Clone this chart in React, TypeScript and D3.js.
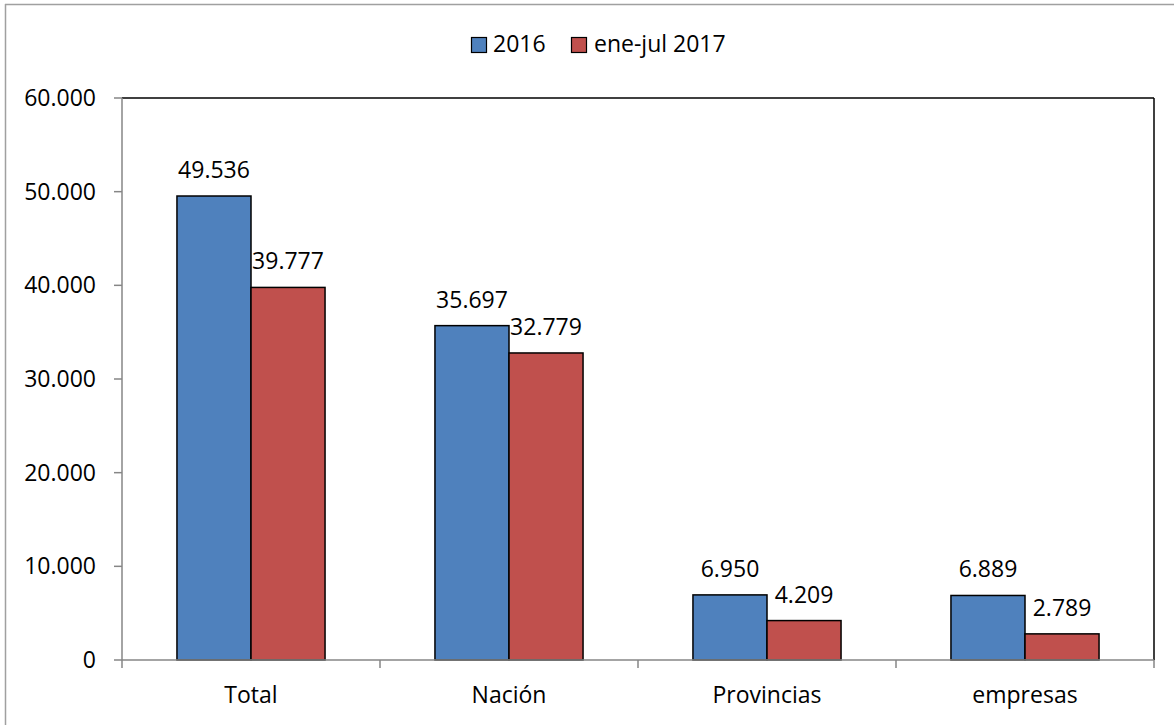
import React from "react";
import * as d3 from "d3";

const categories = ["Total", "Nación", "Provincias", "empresas"];
const series2016 = [49536, 35697, 6950, 6889];
const series2017 = [39777, 32779, 4209, 2789];
const seriesNames = ["2016", "ene-jul 2017"];
const seriesColors = ["#4F81BD", "#C0504D"];
const yTicks = [0, 10000, 20000, 30000, 40000, 50000, 60000];

const W = 1174;
const H = 725;
const left = 122;
const right = 1154;
const top = 98;
const bottom = 660;
const FONT = "'Open Sans', sans-serif";
const FS = 23;

const locale = d3.formatLocale({
  decimal: ",",
  thousands: ".",
  grouping: [3],
  currency: ["", ""],
});
const fmt = locale.format(",d");

export default function App() {
  const x = d3
    .scaleBand<string>()
    .domain(categories)
    .range([left, right])
    .paddingInner(0.426)
    .paddingOuter(0.213);
  const xs = d3
    .scaleBand<string>()
    .domain(seriesNames)
    .range([0, x.bandwidth()]);
  const y = d3.scaleLinear().domain([0, 60000]).range([bottom, top]);
  const step = (right - left) / categories.length;
  const allSeries = [series2016, series2017];

  return (
    <svg
      width={W}
      height={H}
      style={{ position: "absolute", left: 0, top: 0, background: "#fff" }}
      fontFamily={FONT}
    >
      <rect x={0} y={0} width={W} height={H} fill="#fff" />
      {/* outer frame */}
      <line x1={5} y1={4.5} x2={W} y2={4.5} stroke="#A0A0A0" strokeWidth={1.5} />
      <line x1={5.5} y1={4} x2={5.5} y2={H} stroke="#A0A0A0" strokeWidth={1.5} />

      {/* legend */}
      <g fontSize={FS} fill="#000">
        <rect x={471.5} y={37.5} width={15} height={15} fill={seriesColors[0]} stroke="#000" strokeWidth={1.2} />
        <text x={493} y={52}>{seriesNames[0]}</text>
        <rect x={571.5} y={37.5} width={15} height={15} fill={seriesColors[1]} stroke="#000" strokeWidth={1.2} />
        <text x={594} y={52}>{seriesNames[1]}</text>
      </g>

      {/* plot border top and right */}
      <line x1={left} y1={top} x2={right} y2={top} stroke="#000" strokeWidth={1.5} />
      <line x1={right} y1={top} x2={right} y2={bottom} stroke="#000" strokeWidth={1.5} />

      {/* bars */}
      {categories.map((c, i) =>
        allSeries.map((s, j) => {
          const bx = (x(c) as number) + (xs(seriesNames[j]) as number);
          const by = y(s[i]);
          return (
            <g key={c + j}>
              <rect
                x={bx}
                y={by}
                width={xs.bandwidth()}
                height={bottom - by}
                fill={seriesColors[j]}
                stroke="#000"
                strokeWidth={1.5}
              />
              <text
                x={bx + xs.bandwidth() / 2}
                y={by - 18}
                textAnchor="middle"
                fontSize={FS}
                fill="#000"
              >
                {fmt(s[i])}
              </text>
            </g>
          );
        })
      )}

      {/* y axis */}
      <line x1={left} y1={top} x2={left} y2={bottom} stroke="#868686" strokeWidth={1.5} />
      {yTicks.map((t) => (
        <g key={t}>
          <line x1={left - 8} y1={y(t)} x2={left} y2={y(t)} stroke="#868686" strokeWidth={1.5} />
          <text
            x={96}
            y={y(t)}
            dy="0.35em"
            textAnchor="end"
            fontSize={FS}
            fill="#000"
          >
            {fmt(t)}
          </text>
        </g>
      ))}

      {/* x axis */}
      <line x1={left} y1={bottom} x2={right} y2={bottom} stroke="#868686" strokeWidth={1.5} />
      {d3.range(categories.length + 1).map((k) => (
        <line
          key={k}
          x1={left + k * step}
          y1={bottom}
          x2={left + k * step}
          y2={bottom + 8}
          stroke="#868686"
          strokeWidth={1.5}
        />
      ))}
      {categories.map((c) => (
        <text
          key={c}
          x={(x(c) as number) + x.bandwidth() / 2}
          y={703}
          textAnchor="middle"
          fontSize={FS}
          fill="#000"
        >
          {c}
        </text>
      ))}
    </svg>
  );
}
